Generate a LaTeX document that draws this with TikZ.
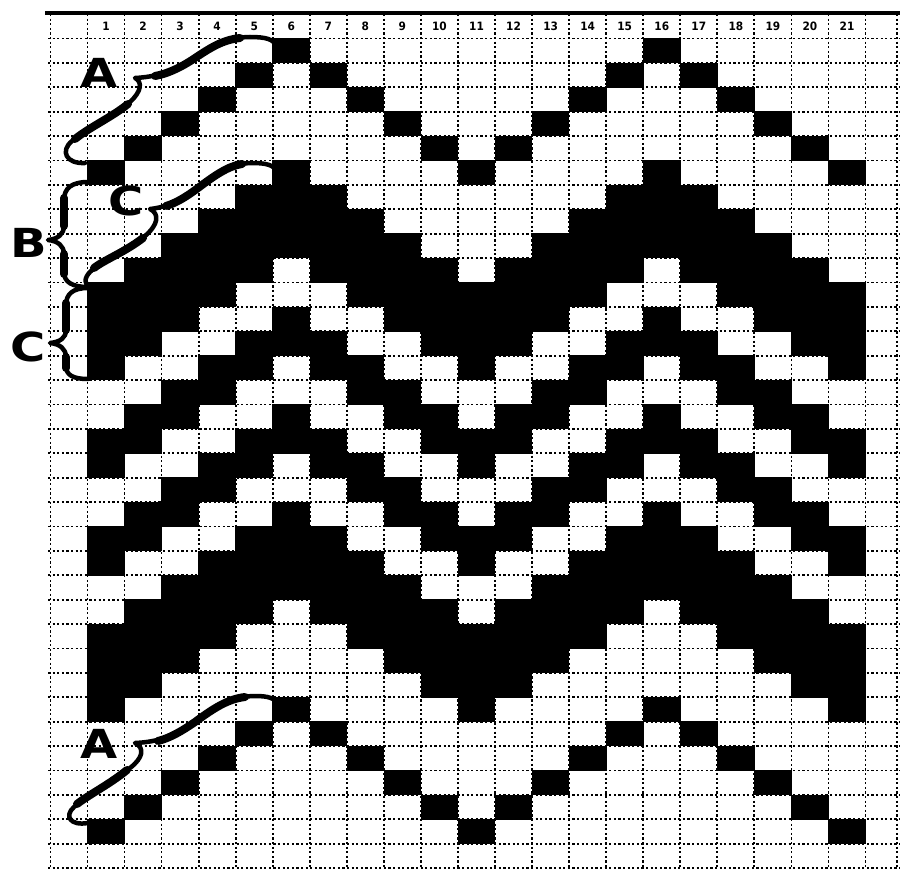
\documentclass[tikz,border=0pt]{standalone}
\usepackage{fontspec}
\setmainfont{Liberation Sans}
\newfontfamily\heavy{DejaVu Sans}
\begin{document}
\begin{tikzpicture}[x=1pt,y=-1pt,
  gridline/.style={line width=1.8pt,dash pattern=on 2.2pt off 2.4pt,black},
  cellfill/.style={fill=black},
  num/.style={font=\heavy\bfseries\fontsize{11.5}{11.5}\selectfont,inner sep=0pt,anchor=center,xscale=0.92},
  letter/.style={font=\heavy\bfseries\fontsize{40}{40}\selectfont,inner sep=0pt,anchor=center,xscale=1.2},
  bracethin/.style={line width=4.5pt,line cap=round,line join=round},
  bracethick/.style={line width=8pt,line cap=round,line join=round}]
\useasboundingbox (0,0) rectangle (900,869);
\fill[white] (0,0) rectangle (900,869);
% grid
\foreach \k in {0,...,22}{
  \draw[gridline] ({50.4+\k*37.05},14) -- ({50.4+\k*37.05},869);
}
\draw[gridline] (897,14) -- (897,869);
\foreach \r in {0,...,34}{
  \draw[gridline] (48,{38.5+\r*24.4}) -- (900,{38.5+\r*24.4});
}
\draw[line width=4pt] (45,13) -- (900,13);
% cells
\foreach \r in {0,...,33}{
  \foreach \c in {1,...,21}{
    \pgfmathtruncatemacro\m{mod(\c+4,10)}
    \pgfmathtruncatemacro\d{min(\m,10-\m)}
    \pgfmathtruncatemacro\blk{(\d==\r)||(\d==\r-27)||(\d==\r-5)||(\d==\r-6)||(\d==\r-7)||(\d==\r-8)||(\d==\r-11)||(\d==\r-12)||(\d==\r-15)||(\d==\r-16)||(\d==\r-19)||(\d==\r-20)||(\d==\r-21)||(\d==\r-22)}
    \ifnum\blk=1
      \fill[cellfill] ({87.5+(\c-1)*37.05-0.3},{38.5+\r*24.4-0.3}) rectangle +(37.65,25);
    \fi
  }
}
% column numbers
\foreach \c in {1,...,21}{
  \node[num] (n\c) at ({87.5+(\c-0.5)*37.05},26.5) {\c};
}
% letters
\node[letter] (At) at (99,73) {A};
\node[letter] (B) at (29,243) {B};
\node[letter] (Cs) at (126,201) {C};
\node[letter] (Cl) at (28,347) {C};
\node[letter] (Ab) at (99,744) {A};
% top A brace
\draw[bracethin] (276,47) .. controls (275,39) and (265,37) .. (250,37)
  .. controls (228,37) and (212,47) .. (192,60)
  .. controls (172,72) and (155,77) .. (135,78)
  .. controls (143,82) and (141,92) .. (130,102)
  .. controls (112,117) and (88,128) .. (72,141)
  .. controls (60,151) and (66,164) .. (85,163);
\draw[bracethick] (240,38) .. controls (222,40) and (210,48) .. (192,60)
  .. controls (178,69) and (166,74) .. (155,76);
\draw[bracethick] (128,104) .. controls (112,117) and (90,127) .. (75,139);
% small C brace
\draw[bracethin] (276,172) .. controls (275,165) and (266,163) .. (252,163)
  .. controls (232,163) and (215,175) .. (198,188)
  .. controls (182,200) and (168,207) .. (150,209)
  .. controls (160,214) and (158,225) .. (145,236)
  .. controls (125,252) and (100,262) .. (90,272)
  .. controls (84,278) and (84,285) .. (90,287);
\draw[bracethick] (242,164) .. controls (228,166) and (214,176) .. (198,188)
  .. controls (186,197) and (176,203) .. (166,206);
\draw[bracethick] (143,238) .. controls (125,252) and (104,260) .. (94,268);
% B brace
\draw[bracethin] (88,182) .. controls (72,182) and (64,188) .. (64,200)
  -- (64,226) .. controls (64,234) and (58,239) .. (48,240)
  .. controls (58,241) and (64,246) .. (64,254)
  -- (64,272) .. controls (64,282) and (72,287) .. (88,287);
\draw[bracethick] (64,198) -- (64,226);
\draw[bracethick] (64,254) -- (64,274);
% left C brace
\draw[bracethin] (88,288) .. controls (73,288) and (66,294) .. (66,305)
  -- (66,330) .. controls (66,338) and (60,342) .. (50,343)
  .. controls (60,344) and (66,349) .. (66,357)
  -- (66,366) .. controls (66,375) and (73,379) .. (88,379);
\draw[bracethick] (66,303) -- (66,330);
\draw[bracethick] (66,357) -- (66,368);
% bottom A brace
\draw[bracethin] (277,705) .. controls (276,698) and (268,696) .. (255,696)
  .. controls (232,696) and (215,708) .. (195,722)
  .. controls (175,736) and (158,742) .. (135,743)
  .. controls (145,748) and (143,758) .. (130,768)
  .. controls (110,784) and (88,795) .. (74,807)
  .. controls (64,816) and (70,826) .. (88,823);
\draw[bracethick] (245,697) .. controls (228,699) and (214,708) .. (195,722)
  .. controls (182,731) and (170,738) .. (158,741);
\draw[bracethick] (127,770) .. controls (110,784) and (90,794) .. (77,804);
\end{tikzpicture}
\end{document}
